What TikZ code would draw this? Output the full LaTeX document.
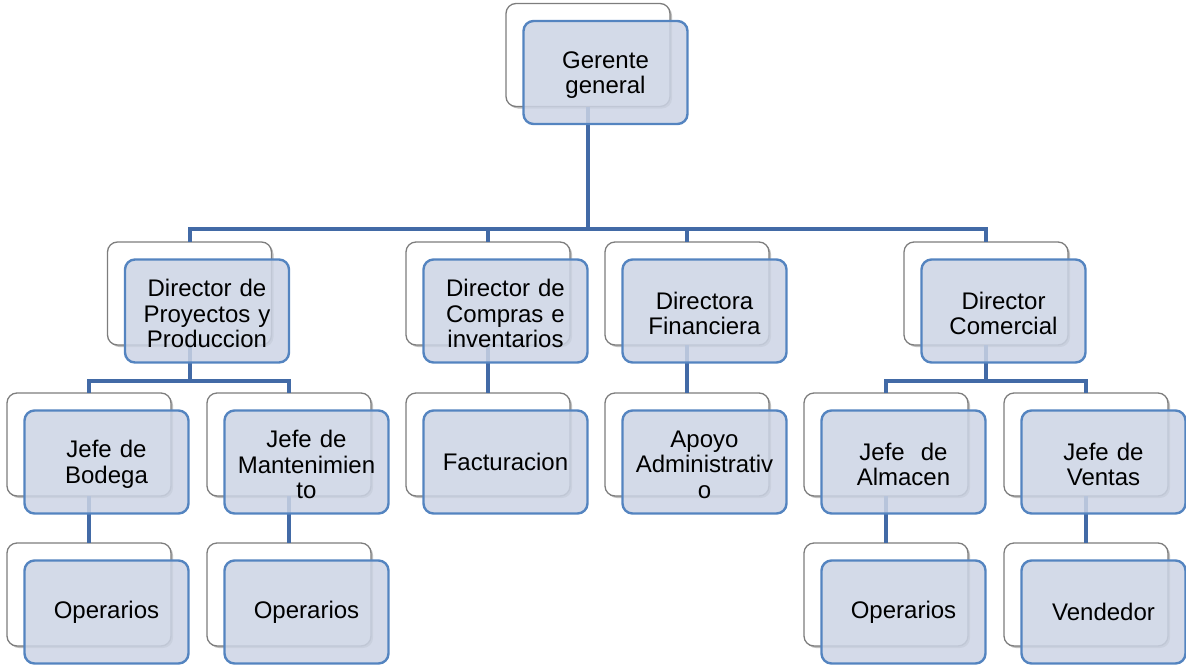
\documentclass[tikz,border=0pt]{standalone}
\usepackage{fontspec}
\setmainfont{Liberation Sans}
\usetikzlibrary{shadows}
\definecolor{linkblue}{RGB}{66,106,166}
\definecolor{frontedge}{RGB}{84,132,192}
\definecolor{frontfill}{RGB}{204,212,229}
\definecolor{backedge}{RGB}{125,125,125}
\tikzset{
  unitback/.style={draw=backedge, line width=1.3pt, fill=white, rounded corners=10pt,
    minimum width=164pt, minimum height=103pt, inner sep=0pt, outer sep=0pt,
    drop shadow={shadow xshift=2pt, shadow yshift=-2pt, opacity=0.25, fill=black}},
  unitfront/.style={draw=frontedge, line width=2.4pt, fill=frontfill, fill opacity=0.85,
    rounded corners=10pt, minimum width=164pt, minimum height=103pt,
    inner sep=0pt, outer sep=0pt},
  unittext/.style={inner sep=0pt, text width=160pt, align=center,
    font=\fontsize{24}{25.5}\selectfont},
  multiline/.style={yshift=-2.5pt},
  link/.style={draw=linkblue, line width=4pt},
}
\begin{document}
\begin{tikzpicture}[x=1pt,y=-1pt]
\useasboundingbox (0,0) rectangle (1186,667);

% back cards
\node[unitback] (gB)  at (588,55) {};
\node[unitback] (d1B) at (189.5,293.5) {};
\node[unitback] (d2B) at (488,293.5) {};
\node[unitback] (d3B) at (687,293.5) {};
\node[unitback] (d4B) at (986,293.5) {};
\node[unitback] (j1B) at (89,444.5) {};
\node[unitback] (j2B) at (289,444.5) {};
\node[unitback] (j3B) at (488,444.5) {};
\node[unitback] (j4B) at (687,444.5) {};
\node[unitback] (j5B) at (886,444.5) {};
\node[unitback] (j6B) at (1086,444.5) {};
\node[unitback] (o1B) at (89,594.5) {};
\node[unitback] (o2B) at (289,594.5) {};
\node[unitback] (o3B) at (886,594.5) {};
\node[unitback] (o4B) at (1086,594.5) {};

% reporting lines
\draw[link] (gB.south) -- ++(0,122) -| (d1B.north);
\draw[link] (gB.south) -- ++(0,122) -| (d2B.north);
\draw[link] (gB.south) -- ++(0,122) -| (d3B.north);
\draw[link] (gB.south) -- ++(0,122) -| (d4B.north);
\draw[link] (d1B.south) -- ++(0,36) -| (j1B.north);
\draw[link] (d1B.south) -- ++(0,36) -| (j2B.north);
\draw[link] (d2B.south) -- (j3B.north);
\draw[link] (d3B.south) -- (j4B.north);
\draw[link] (d4B.south) -- ++(0,36) -| (j5B.north);
\draw[link] (d4B.south) -- ++(0,36) -| (j6B.north);
\draw[link] (j1B.south) -- (o1B.north);
\draw[link] (j2B.south) -- (o2B.north);
\draw[link] (j5B.south) -- (o3B.north);
\draw[link] (j6B.south) -- (o4B.north);

% front cards
\node[unitfront] (g)  at (605.5,72.5) {};
\node[unitfront] (d1) at (207,311) {};
\node[unitfront] (d2) at (505.5,311) {};
\node[unitfront] (d3) at (704.5,311) {};
\node[unitfront] (d4) at (1003.5,311) {};
\node[unitfront] (j1) at (106.5,462) {};
\node[unitfront] (j2) at (306.5,462) {};
\node[unitfront] (j3) at (505.5,462) {};
\node[unitfront] (j4) at (704.5,462) {};
\node[unitfront] (j5) at (903.5,462) {};
\node[unitfront] (j6) at (1103.5,462) {};
\node[unitfront] (o1) at (106.5,612) {};
\node[unitfront] (o2) at (306.5,612) {};
\node[unitfront] (o3) at (903.5,612) {};
\node[unitfront] (o4) at (1103.5,612) {};

% titles
\node[unittext,multiline] (gT)  at (g)  {Gerente\\general};
\node[unittext,multiline] (d1T) at (d1) {Director de\\Proyectos y\\Produccion};
\node[unittext,multiline] (d2T) at (d2) {Director de\\Compras e\\inventarios};
\node[unittext,multiline] (d3T) at (d3) {Directora\\Financiera};
\node[unittext,multiline] (d4T) at (d4) {Director\\Comercial};
\node[unittext,multiline] (j1T) at (j1) {Jefe de\\Bodega};
\node[unittext,multiline] (j2T) at (j2) {Jefe de\\Mantenimien\\to};
\node[unittext] (j3T) at (j3) {Facturacion};
\node[unittext,multiline] (j4T) at (j4) {Apoyo\\Administrativ\\o};
\node[unittext,multiline] (j5T) at (j5) {Jefe~ de\\Almacen};
\node[unittext,multiline] (j6T) at (j6) {Jefe de\\Ventas};
\node[unittext] (o1T) at (o1) {Operarios};
\node[unittext] (o2T) at (o2) {Operarios};
\node[unittext] (o3T) at (o3) {Operarios};
\node[unittext] (o4T) at (o4) {Vendedor};
\end{tikzpicture}
\end{document}
